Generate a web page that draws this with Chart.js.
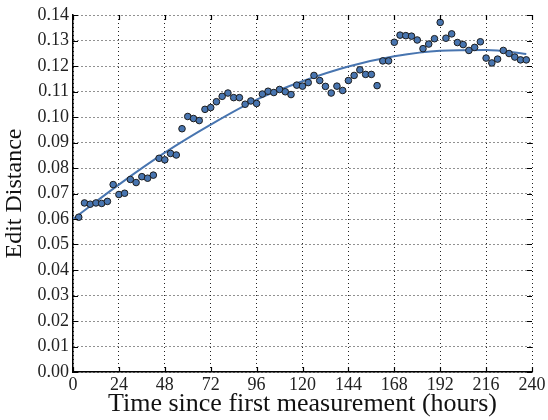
<!DOCTYPE html>
<html>
<head>
<meta charset="utf-8">
<script src="https://cdn.jsdelivr.net/npm/chart.js@4"></script>
<style>
  html, body { margin: 0; padding: 0; background: #fff; }
  #wrap { width: 548px; height: 420px; }
</style>
</head>
<body>
<div id="wrap"><canvas id="myChart" width="548" height="420"></canvas></div>
<script>
// heures des mesures
var hours = [3, 6, 9, 12, 15, 18, 21, 24, 27, 30,
             33, 36, 39, 42, 45, 48, 51, 54, 57, 60,
             63, 66, 69, 72, 75, 78, 81, 84, 87, 90,
             93, 96, 99, 102, 105, 108, 111, 114, 117, 120,
             123, 126, 129, 132, 135, 138, 141, 144, 147, 150,
             153, 156, 159, 162, 165, 168, 171, 174, 177, 180,
             183, 186, 189, 192, 195, 198, 201, 204, 207, 210,
             213, 216, 219, 222, 225, 228, 231, 234, 237];

// distance d'edition mesuree
var editDistance = [0.0607, 0.0663, 0.0658, 0.0663, 0.0661, 0.0669, 0.0735, 0.0696, 0.0701, 0.0755,
                    0.0743, 0.0766, 0.0760, 0.0772, 0.0838, 0.0832, 0.0857, 0.0851, 0.0954, 0.1002,
                    0.0994, 0.0986, 0.1030, 0.1037, 0.1060, 0.1081, 0.1094, 0.1076, 0.1076, 0.1050,
                    0.1063, 0.1053, 0.1090, 0.1101, 0.1096, 0.1108, 0.1099, 0.1088, 0.1125, 0.1121,
                    0.1135, 0.1163, 0.1143, 0.1120, 0.1094, 0.1121, 0.1104, 0.1143, 0.1163, 0.1185,
                    0.1167, 0.1167, 0.1123, 0.1220, 0.1220, 0.1293, 0.1321, 0.1319, 0.1317, 0.1302,
                    0.1268, 0.1286, 0.1307, 0.1371, 0.1309, 0.1326, 0.1292, 0.1284, 0.1261, 0.1273,
                    0.1295, 0.1231, 0.1212, 0.1227, 0.1261, 0.1249, 0.1235, 0.1224, 0.1224];

// courbe ajustee
var fitHours = [0, 24, 48, 72, 96, 120, 144, 168, 192, 216, 237];
var fitValues = [0.0600, 0.0735, 0.0860, 0.0970, 0.1068, 0.1140, 0.1198, 0.1238, 0.1260, 0.1263, 0.1247];

// graduations
var xTicks = [0, 24, 48, 72, 96, 120, 144, 168, 192, 216, 240];
var yTicks = ['0.00', '0.01', '0.02', '0.03', '0.04', '0.05', '0.06', '0.07',
              '0.08', '0.09', '0.10', '0.11', '0.12', '0.13', '0.14'];

var blue = '#4875b0';
var serif = "'Liberation Serif', 'DejaVu Serif', serif";

var points = hours.map(function(h, i) { return { x: h, y: editDistance[i] }; });
var fit = fitHours.map(function(h, i) { return { x: h, y: fitValues[i] }; });

// petits traits de graduation vers l'interieur, sur les 4 cotes
var innerTicks = {
    id: 'innerTicks',
    afterDraw: function(chart) {
        var c = chart.ctx, a = chart.chartArea;
        var xs = chart.scales.x, ys = chart.scales.y;
        c.save();
        c.strokeStyle = '#000';
        c.lineWidth = 1.2;
        c.beginPath();
        xTicks.forEach(function(t) {
            var px = Math.round(xs.getPixelForValue(t)) + 0.5;
            c.moveTo(px, a.bottom); c.lineTo(px, a.bottom - 5);
            c.moveTo(px, a.top); c.lineTo(px, a.top + 5);
        });
        yTicks.forEach(function(t) {
            var py = Math.round(ys.getPixelForValue(parseFloat(t))) + 0.5;
            c.moveTo(a.left, py); c.lineTo(a.left + 5, py);
            c.moveTo(a.right, py); c.lineTo(a.right - 5, py);
        });
        c.stroke();
        c.restore();
    }
};

var ctx = document.getElementById('myChart').getContext('2d');
var myChart = new Chart(ctx, {
    type: 'scatter',
    data: {
        datasets: [{
            label: 'Mesures',
            data: points,
            backgroundColor: blue,
            borderColor: '#1c1c1c',
            borderWidth: 1,
            pointRadius: 3.3,
            order: 1
        }, {
            label: 'Ajustement',
            data: fit,
            showLine: true,
            borderColor: blue,
            borderWidth: 2,
            pointRadius: 0,
            cubicInterpolationMode: 'monotone',
            order: 2
        }]
    },
    options: {
        responsive: false,
        animation: false,
        layout: { padding: { top: 15, right: 16, left: 0, bottom: 0 } },
        plugins: { legend: { display: false }, tooltip: { enabled: false } },
        scales: {
            x: {
                type: 'linear',
                min: 0, max: 240,
                afterBuildTicks: function(s) { s.ticks = xTicks.map(function(v) { return { value: v }; }); },
                afterFit: function(s) { s.height = 48; },
                ticks: {
                    autoSkip: false, maxRotation: 0, padding: 2,
                    color: '#222', font: { family: serif, size: 18 },
                    callback: function(v) { return String(v); }
                },
                grid: { color: '#222', lineWidth: 1, drawTicks: false },
                // dans Chart.js v4, border.dash s'applique aux lignes de grille
                border: { display: true, color: '#000', width: 1.5, dash: [1, 3] },
                title: {
                    display: true, text: 'Time since first measurement (hours)',
                    color: '#111', font: { family: serif, size: 26 }, padding: { top: 0, bottom: 0 }
                }
            },
            y: {
                min: 0, max: 0.14,
                afterBuildTicks: function(s) { s.ticks = yTicks.map(function(v) { return { value: parseFloat(v) }; }); },
                afterFit: function(s) { s.width = 73; },
                ticks: {
                    autoSkip: false, padding: 4,
                    color: '#222', font: { family: serif, size: 18 },
                    callback: function(v, i) { return yTicks[i]; }
                },
                grid: { color: '#222', lineWidth: 1, drawTicks: false },
                border: { display: true, color: '#000', width: 1.5, dash: [1, 3] },
                title: {
                    display: true, text: 'Edit Distance',
                    color: '#111', font: { family: serif, size: 24 }, padding: { top: 0, bottom: 2 }
                }
            }
        }
    },
    plugins: [innerTicks]
});
</script>
</body>
</html>
